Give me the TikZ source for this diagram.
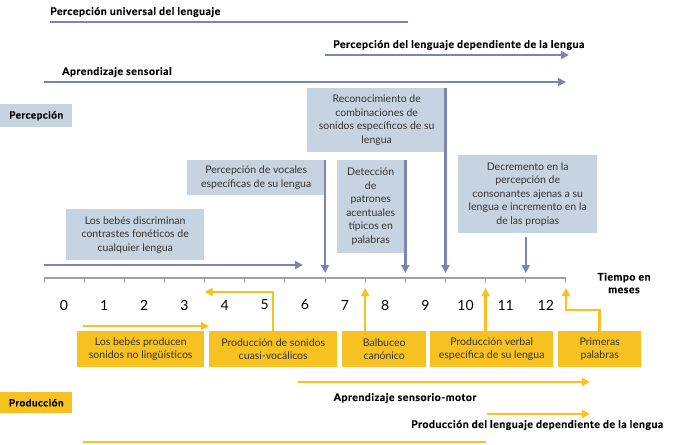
\documentclass[tikz,border=0pt]{standalone}
\usepackage{fontspec}
\setmainfont{Lato}
\newfontfamily\titrefont{Lato}[LetterSpace=5, BoldFeatures={FakeBold=0.6}]
\usetikzlibrary{arrows.meta,positioning}
\definecolor{bleu}{RGB}{122,133,178}
\definecolor{bleuclair}{RGB}{198,212,225}
\definecolor{jaune}{RGB}{247,193,33}
\definecolor{gris}{RGB}{160,160,160}

\begin{document}
\begin{tikzpicture}[
    x=1pt, y=-1pt,  % unités en points, y vers le bas
    % Boîtes de texte
    boite/.style={anchor=north west, inner sep=0pt, align=center,
        text=black!80, font=\fontsize{10.5}{13.5}\selectfont},
    boiteP/.style={boite, fill=bleuclair},
    boiteJ/.style={boite, fill=jaune},
    titre/.style={anchor=west, inner sep=0pt, text=black,
        font=\titrefont\bfseries\fontsize{10.5}{12.5}\selectfont},
    mois/.style={font=\fontsize{14}{14}\selectfont},
    % Flèches et traits
    ligneP/.style={draw=bleu, line width=2.5pt},
    flecheP/.style={ligneP, -{Triangle[length=8pt,width=8pt]}},
    ligneJ/.style={draw=jaune, line width=2.5pt},
    flecheJ/.style={ligneJ, -{Triangle[length=8pt,width=8pt]}}
]
\useasboundingbox (0,0) rectangle (673,445);

% Axe du temps
\foreach \i in {0,...,13} {
    \coordinate (g\i) at (44+40.15*\i,278);
    \draw[gris, line width=1pt] (g\i) -- ++(0,5);
}
\draw[gris, line width=1.5pt] (g0) -- (g13);
\foreach \m in {0,...,12}
    \node[mois] (m\m) at (64+40.15*\m,305) {\m};
\node[titre, anchor=center, align=center] (temps) at (624,283) {Tiempo en\\meses};

% Perception
\node[boiteP, minimum width=72, minimum height=23, text=black,
    font=\titrefont\bfseries\fontsize{10}{12}\selectfont] (perc) at (0,104) {Percepción};

\node[titre] (univ) at (50,12) {Percepción universal del lenguaje};
\coordinate (univA) at (50,22);
\coordinate (univB) at (408,22);
\draw[ligneP] (univA) -- (univB);

\node[titre] (dep) at (333,45) {Percepción del lenguaje dependiente de la lengua};
\coordinate (depA) at (325,55);
\coordinate (depB) at (569,55);
\draw[flecheP] (depA) -- (depB);

\node[titre] (sens) at (62,72) {Aprendizaje sensorial};
\coordinate (sensA) at (44,82);
\coordinate (sensB) at (566,82);
\draw[flecheP] (sensA) -- (sensB);

\node[boiteP, minimum width=139, minimum height=64] (reco) at (307,88)
    {Reconocimiento de\\combinaciones de\\sonidos específicos de su\\lengua};
\node[boiteP, minimum width=138, minimum height=35] (voc) at (187,160)
    {Percepción de vocales\\específicas de su lengua};
\node[boiteP, minimum width=138, minimum height=51] (discr) at (66,209)
    {Los bebés discriminan\\contrastes fonéticos de\\cualquier lengua};
\node[boiteP, minimum width=67, minimum height=93] (detec) at (337,160)
    {Detección\\de\\patrones\\acentuales\\típicos en\\palabras};
\node[boiteP, minimum width=139, minimum height=78] (decr) at (458,155)
    {Decremento en la\\percepción de\\consonantes ajenas a su\\lengua e incremento en la\\de las propias};

\draw[flecheP] (g10 |- reco.north) -- ([yshift=5pt]g10);
\draw[flecheP] (g7 |- voc.north) -- ([yshift=5pt]g7);
\draw[flecheP] (g9 |- detec.north) -- ([yshift=5pt]g9);
\draw[flecheP, shorten <=4pt] (g12 |- decr.south) -- ([yshift=5pt]g12);

\coordinate (discrA) at (44,265);
\coordinate (discrB) at (303,265);
\draw[flecheP] (discrA) -- (discrB);

% Production
\node[boiteJ, minimum width=127, minimum height=36] (prod1) at (77,331)
    {Los bebés producen\\sonidos no lingüísticos};
\node[boiteJ, minimum width=128, minimum height=36] (prod2) at (209,331)
    {Producción de sonidos\\cuasi-vocálicos};
\node[boiteJ, minimum width=84, minimum height=36] (balb) at (342,331)
    {Balbuceo\\canónico};
\node[boiteJ, minimum width=123, minimum height=36] (verb) at (430,331)
    {Producción verbal\\específica de su lengua};
\node[boiteJ, minimum width=83, minimum height=36] (prim) at (558,331)
    {Primeras\\palabras};

\coordinate (prodA) at (83,326);
\coordinate (prodB) at (209,326);
\draw[flecheJ] (prodA) -- (prodB);
\draw[flecheJ] (prod2.north) |- ([yshift=-14pt]g4);
\draw[flecheJ] (g8 |- balb.north) -- ([yshift=-10pt]g8);
\draw[flecheJ] (g11 |- verb.north) -- ([yshift=-10pt]g11);
\draw[flecheJ] (prim.north) -- ++(0,-21) -| ([yshift=-10pt]g13);

\coordinate (motA) at (298,382);
\coordinate (motB) at (590,382);
\draw[flecheJ] (motA) -- (motB);
\node[titre, anchor=center] (motor) at (405,398) {Aprendizaje sensorio-motor};

\node[boiteJ, minimum width=72, minimum height=21, text=black,
    font=\titrefont\bfseries\fontsize{10}{12}\selectfont] (prod) at (0,392) {Producción};

\coordinate (depJA) at (487,414);
\coordinate (depJB) at (590,414);
\draw[flecheJ] (depJA) -- (depJB);
\node[titre] (depJ) at (411,425) {Producción del lenguaje dependiente de la lengua};

\coordinate (finA) at (83,442);
\coordinate (finB) at (486,442);
\draw[ligneJ] (finA) -- (finB);
\end{tikzpicture}
\end{document}
